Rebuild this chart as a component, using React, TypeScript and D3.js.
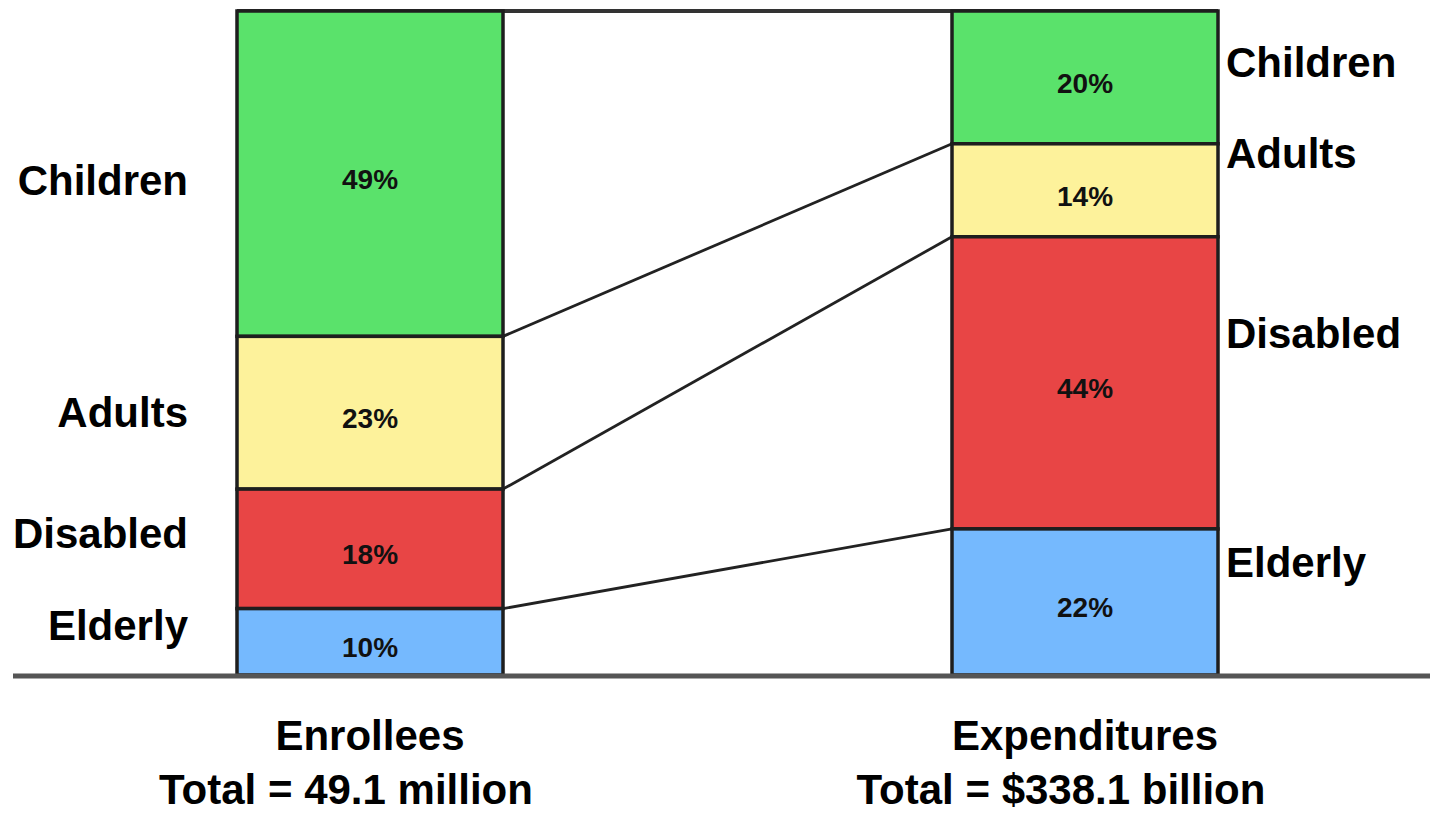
import React from "react";
import * as d3 from "d3";

// Groups, in stacking order from top to bottom
const groups = ["Children", "Adults", "Disabled", "Elderly"];
// Share of enrollees (%)
const enrolleeShares = [49, 23, 18, 10];
// Share of expenditures (%)
const expenditureShares = [20, 14, 44, 22];
const columns = ["Enrollees", "Expenditures"];
const columnTotals = ["Total = 49.1 million", "Total = $338.1 billion"];
const groupColors = ["#5ae26b", "#fdf29b", "#e84545", "#75b9fe"];

// Layout
const W = 1430;
const H = 814;
const BAR_W = 266;
const TOP = 11;
const BOTTOM = 675;
const LEFT_LABEL_Y = [180, 412, 533, 625];
const RIGHT_LABEL_Y = [62, 153, 333, 562];
const FONT = "'Liberation Sans', Arial, Helvetica, sans-serif";

type Seg = { group: string; value: number; y0: number; y1: number; color: string };

function stackShares(values: number[]): Seg[] {
  let acc = 0;
  return values.map((v, i) => {
    const s = { group: groups[i], value: v, y0: acc, y1: acc + v, color: groupColors[i] };
    acc += v;
    return s;
  });
}

export default function App() {
  const x = d3.scalePoint<string>().domain(columns).range([370, 1085]);
  // 0% at the top of the bars, 100% at the baseline
  const y = d3.scaleLinear().domain([0, 100]).range([TOP, BOTTOM]);

  const stacks = [stackShares(enrolleeShares), stackShares(expenditureShares)];
  const leftX = (x(columns[0]) as number) - BAR_W / 2;
  const rightX = (x(columns[1]) as number) - BAR_W / 2;
  const leftEdge = leftX + BAR_W;

  const line = d3.line<[number, number]>();

  return (
    <div style={{ position: "fixed", left: 0, top: 0 }}>
      <svg width={W} height={H} style={{ display: "block", background: "#fff" }}>
        {/* top rail joining both bars */}
        <path d={line([[leftX, y(0)], [rightX + BAR_W, y(0)]]) as string} stroke="#333" strokeWidth={4} fill="none" />

        {/* connectors between matching segment boundaries */}
        {stacks[0].slice(0, -1).map((s, i) => (
          <path
            key={"c" + i}
            d={line([[leftEdge, y(s.y1)], [rightX, y(stacks[1][i].y1)]]) as string}
            stroke="#222"
            strokeWidth={2.8}
            fill="none"
          />
        ))}

        {stacks.map((segs, ci) => {
          const bx = (x(columns[ci]) as number) - BAR_W / 2;
          return (
            <g key={"bar" + ci}>
              {segs.map((s) => (
                <rect
                  key={s.group}
                  x={bx}
                  y={y(s.y0)}
                  width={BAR_W}
                  height={y(s.y1) - y(s.y0)}
                  fill={s.color}
                  stroke="#1e1e1e"
                  strokeWidth={3.5}
                />
              ))}
              {segs.map((s) => (
                <text
                  key={"p" + s.group}
                  x={x(columns[ci]) as number}
                  y={(y(s.y0) + y(s.y1)) / 2 + 6}
                  textAnchor="middle"
                  dominantBaseline="central"
                  fontFamily={FONT}
                  fontWeight="bold"
                  fontSize={28}
                  fill="#111"
                >
                  {s.value}%
                </text>
              ))}
            </g>
          );
        })}

        {/* baseline */}
        <path d={line([[13, BOTTOM + 1], [W, BOTTOM + 1]]) as string} stroke="#555" strokeWidth={5} fill="none" />

        {/* group labels */}
        {groups.map((g, i) => (
          <text
            key={"ll" + g}
            x={188}
            y={LEFT_LABEL_Y[i]}
            textAnchor="end"
            dominantBaseline="central"
            fontFamily={FONT}
            fontWeight="bold"
            fontSize={42}
            fill="#000"
          >
            {g}
          </text>
        ))}
        {groups.map((g, i) => (
          <text
            key={"rl" + g}
            x={1226}
            y={RIGHT_LABEL_Y[i]}
            textAnchor="start"
            dominantBaseline="central"
            fontFamily={FONT}
            fontWeight="bold"
            fontSize={42}
            fill="#000"
          >
            {g}
          </text>
        ))}

        {/* column titles */}
        {columns.map((c, i) => (
          <g key={"t" + c}>
            <text
              x={x(c) as number}
              y={750}
              textAnchor="middle"
              fontFamily={FONT}
              fontWeight="bold"
              fontSize={42}
              fill="#000"
            >
              {c}
            </text>
            <text
              x={(x(c) as number) - 24}
              y={804}
              textAnchor="middle"
              fontFamily={FONT}
              fontWeight="bold"
              fontSize={42}
              fill="#000"
            >
              {columnTotals[i]}
            </text>
          </g>
        ))}
      </svg>
    </div>
  );
}
